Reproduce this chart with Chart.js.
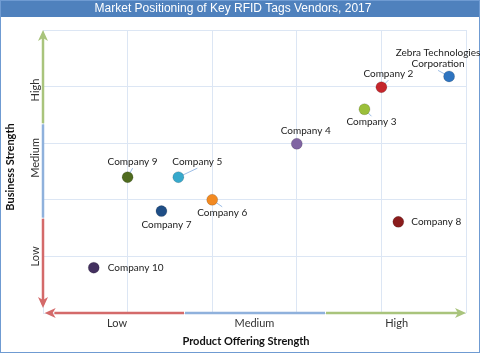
<!DOCTYPE html>
<html>
<head>
<meta charset="utf-8">
<script src="https://cdn.jsdelivr.net/npm/chart.js@4.4.1/dist/chart.umd.min.js"></script>
<style>
  html, body { margin: 0; padding: 0; background: #fff; }
  canvas { display: block; }
</style>
</head>
<body>
<canvas id="chart" width="480" height="353"></canvas>
<script>
// данные графика
const companies = ['Zebra Technologies Corporation', 'Company 2', 'Company 3', 'Company 4', 'Company 5',
    'Company 6', 'Company 7', 'Company 8', 'Company 9', 'Company 10'];
const productStrength = [4.8, 4.0, 3.8, 3.0, 1.6, 2.0, 1.4, 4.2, 1.0, 0.6];
const businessStrength = [4.18, 3.99, 3.6, 2.99, 2.4, 2.0, 1.8, 1.61, 2.4, 0.8];
const levelLabels = ['Low', 'Medium', 'High'];

// оформление
const pointColors = ['#2e74c0', '#c5262c', '#9bbf3a', '#8064a2', '#37a9cc',
    '#f28a22', '#1f4e86', '#8a1c1c', '#4f6b1f', '#43305f'];
// смещение подписи от точки: [dx, dy, выравнивание, выноска]
const labelOffsets = [
    [-11, -18, 'center', true],
    [7, -13, 'center', true],
    [7, 13, 'center', true],
    [9, -13, 'center', false],
    [19, -15, 'center', true],
    [10, 13, 'center', true],
    [5, 14, 'center', false],
    [13, 0, 'left', false],
    [5, -15, 'center', true],
    [14, 0, 'left', false]
];
const xLevelPos = [0.875, 2.5, 4.18];
const yLevelPos = [1.0, 2.74, 3.94];

const RED = '#d46a6a', BLUE = '#8fb1dc', GREEN = '#a9c47c';
const LABEL_FONT = '10px Lato';

function arrowHead(ctx, x, y, dir, color) {
    const L = 11, W = 5, N = 3;
    const pts = {
        up: [[x, y], [x - W, y + L], [x, y + L - N], [x + W, y + L]],
        down: [[x, y], [x - W, y - L], [x, y - L + N], [x + W, y - L]],
        left: [[x, y], [x + L, y - W], [x + L - N, y], [x + L, y + W]],
        right: [[x, y], [x - L, y - W], [x - L + N, y], [x - L, y + W]]
    }[dir];
    ctx.fillStyle = color;
    ctx.beginPath();
    ctx.moveTo(pts[0][0], pts[0][1]);
    for (let i = 1; i < pts.length; i++) ctx.lineTo(pts[i][0], pts[i][1]);
    ctx.closePath();
    ctx.fill();
}

function segment(ctx, x1, y1, x2, y2, color) {
    ctx.strokeStyle = color;
    ctx.lineWidth = 2.5;
    ctx.beginPath();
    ctx.moveTo(x1, y1);
    ctx.lineTo(x2, y2);
    ctx.stroke();
}

const decor = {
    id: 'decor',
    beforeDraw(chart) {
        const ctx = chart.ctx;
        const w = chart.width, h = chart.height;
        ctx.save();
        ctx.fillStyle = '#fff';
        ctx.fillRect(0, 0, w, h);
        // полоса заголовка
        ctx.fillStyle = '#4f81bd';
        ctx.fillRect(0, 0, w, 17);
        ctx.fillStyle = '#fff';
        ctx.font = '12px "Liberation Sans"';
        ctx.textAlign = 'center';
        ctx.textBaseline = 'middle';
        ctx.fillText('Market Positioning of Key RFID Tags Vendors, 2017', 233, 9);
        // рамка
        ctx.strokeStyle = '#6f9bd2';
        ctx.lineWidth = 1;
        ctx.strokeRect(0.5, 0.5, w - 1, h - 1);
        ctx.restore();
    },
    beforeDatasetsDraw(chart) {
        const ctx = chart.ctx;
        const xs = chart.scales.x, ys = chart.scales.y;
        const x0 = xs.getPixelForValue(0), y0 = ys.getPixelForValue(0);
        const X = v => xs.getPixelForValue(v), Y = v => ys.getPixelForValue(v);
        ctx.save();
        // ось Y
        segment(ctx, x0, Y(0.15), x0, Y(5 / 3), RED);
        segment(ctx, x0, Y(5 / 3) - 1, x0, Y(10 / 3), BLUE);
        segment(ctx, x0, Y(10 / 3) - 1, x0, Y(5) + 8, GREEN);
        arrowHead(ctx, x0, Y(5), 'up', GREEN);
        arrowHead(ctx, x0, Y(0.09), 'down', RED);
        // ось X
        segment(ctx, X(0.04) + 8, y0, X(5 / 3), y0, RED);
        segment(ctx, X(5 / 3) + 1, y0, X(10 / 3), y0, BLUE);
        segment(ctx, X(10 / 3) + 1, y0, X(5) - 8, y0, GREEN);
        arrowHead(ctx, X(5), y0, 'right', GREEN);
        arrowHead(ctx, X(0.02), y0, 'left', RED);

        // выноски
        ctx.strokeStyle = '#9cbde6';
        ctx.lineWidth = 1;
        companies.forEach((name, i) => {
            const o = labelOffsets[i];
            if (!o[3]) return;
            const px = X(productStrength[i]), py = Y(businessStrength[i]);
            let lx = px + o[0], ly = py + o[1] + (o[1] < 0 ? 6 : -6);
            if (i === 0) ly = py - 6;
            ctx.beginPath();
            ctx.moveTo(lx, ly);
            ctx.lineTo(px, py);
            ctx.stroke();
        });
        ctx.restore();
    },
    afterDraw(chart) {
        const ctx = chart.ctx;
        const xs = chart.scales.x, ys = chart.scales.y;
        const X = v => xs.getPixelForValue(v), Y = v => ys.getPixelForValue(v);
        ctx.save();
        ctx.fillStyle = '#222';
        ctx.textBaseline = 'middle';
        ctx.font = LABEL_FONT;
        companies.forEach((name, i) => {
            const o = labelOffsets[i];
            const px = X(productStrength[i]) + o[0], py = Y(businessStrength[i]) + o[1];
            ctx.textAlign = o[2];
            if (i === 0) {
                ctx.fillText('Zebra Technologies', px, py - 5.5);
                ctx.fillText('Corporation', px, py + 5.5);
            } else {
                ctx.fillText(name, px, py);
            }
        });

        // подписи уровней
        ctx.font = '11px Lato';
        ctx.fillStyle = '#333';
        ctx.textAlign = 'center';
        levelLabels.forEach((t, i) => ctx.fillText(t, X(xLevelPos[i]), 323));
        levelLabels.forEach((t, i) => {
            ctx.save();
            ctx.translate(35, Y(yLevelPos[i]));
            ctx.rotate(-Math.PI / 2);
            ctx.fillText(t, 0, 0);
            ctx.restore();
        });

        // названия осей
        ctx.font = 'bold 11px Lato';
        ctx.fillStyle = '#111';
        ctx.fillText('Product Offering Strength', 246, 341);
        ctx.save();
        ctx.translate(10, 167);
        ctx.rotate(-Math.PI / 2);
        ctx.fillText('Business Strength', 0, 0);
        ctx.restore();
        ctx.restore();
    }
};

new Chart(document.getElementById('chart'), {
    type: 'scatter',
    data: {
        datasets: [{
            data: productStrength.map((x, i) => ({ x: x, y: businessStrength[i] })),
            pointBackgroundColor: pointColors,
            pointBorderColor: pointColors.map(() => 'rgba(0,0,0,0.15)'),
            pointBorderWidth: 1,
            pointRadius: 5.5,
            pointHoverRadius: 5.5
        }]
    },
    options: {
        responsive: false,
        animation: false,
        clip: false,
        layout: { padding: { top: 30, left: 43, right: 14, bottom: 40 } },
        plugins: {
            legend: { display: false },
            tooltip: { enabled: false },
            title: { display: false }
        },
        scales: {
            x: {
                min: 0, max: 5,
                ticks: { display: false, stepSize: 1 },
                grid: { color: '#dce6f4', drawTicks: false, lineWidth: 1 },
                border: { display: false },
                afterFit: s => { s.height = 0; }
            },
            y: {
                min: 0, max: 5,
                ticks: { display: false, stepSize: 1 },
                grid: { color: '#dce6f4', drawTicks: false, lineWidth: 1 },
                border: { display: false },
                afterFit: s => { s.width = 0; }
            }
        }
    },
    plugins: [decor]
});
</script>
</body>
</html>
